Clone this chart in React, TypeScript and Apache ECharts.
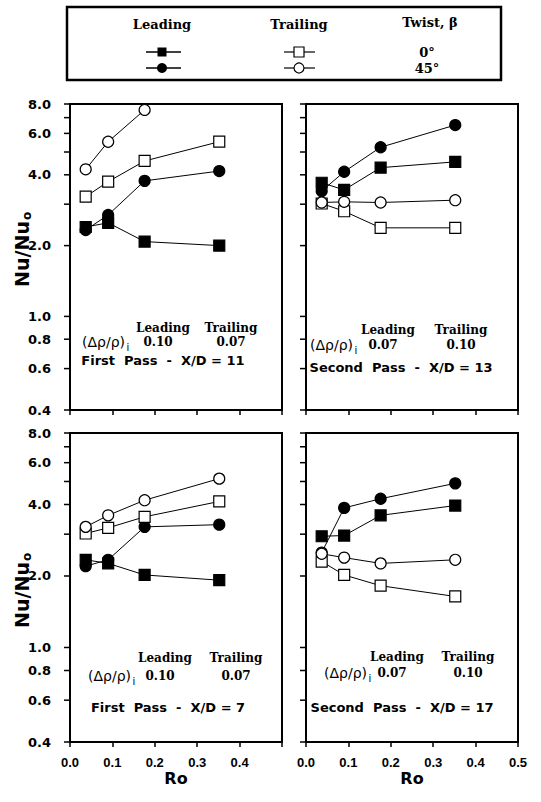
import React, { useEffect, useRef } from "react";
import * as echarts from "echarts";

// ---- data ----
const RO = [0.037, 0.09, 0.176, 0.352];

// First Pass - X/D = 11
const P1_LEAD_0 = [2.4, 2.5, 2.08, 2.0];
const P1_LEAD_45 = [2.33, 2.7, 3.77, 4.15];
const P1_TRAIL_0 = [3.23, 3.74, 4.58, 5.53];
const P1_TRAIL_45 = [4.22, 5.53, 7.55];

// Second Pass - X/D = 13
const P2_LEAD_0 = [3.7, 3.45, 4.29, 4.54];
const P2_LEAD_45 = [3.41, 4.12, 5.24, 6.51];
const P2_TRAIL_0 = [3.02, 2.8, 2.38, 2.38];
const P2_TRAIL_45 = [3.05, 3.07, 3.05, 3.12];

// First Pass - X/D = 7
const P3_LEAD_0 = [2.34, 2.26, 2.02, 1.92];
const P3_LEAD_45 = [2.2, 2.34, 3.22, 3.29];
const P3_TRAIL_0 = [3.02, 3.19, 3.55, 4.12];
const P3_TRAIL_45 = [3.22, 3.6, 4.17, 5.14];

// Second Pass - X/D = 17
const P4_LEAD_0 = [2.94, 2.96, 3.6, 3.96];
const P4_LEAD_45 = [2.51, 3.87, 4.23, 4.91];
const P4_TRAIL_0 = [2.3, 2.02, 1.82, 1.64];
const P4_TRAIL_45 = [2.48, 2.39, 2.26, 2.34];

const Y_TICKS = [0.4, 0.6, 0.8, 1, 2, 3, 4, 5, 6, 7, 8];
const Y_LABELED = [0.4, 0.6, 0.8, 1, 2, 4, 6, 8];

const PANEL_TITLES = [
  "First  Pass  -  X/D = 11",
  "Second  Pass  -  X/D = 13",
  "First  Pass  -  X/D = 7",
  "Second  Pass  -  X/D = 17",
];
const LEAD_RATIO = ["0.10", "0.07", "0.10", "0.07"];
const TRAIL_RATIO = ["0.07", "0.10", "0.07", "0.10"];

const PANELS = [
  { lead0: P1_LEAD_0, lead45: P1_LEAD_45, trail0: P1_TRAIL_0, trail45: P1_TRAIL_45 },
  { lead0: P2_LEAD_0, lead45: P2_LEAD_45, trail0: P2_TRAIL_0, trail45: P2_TRAIL_45 },
  { lead0: P3_LEAD_0, lead45: P3_LEAD_45, trail0: P3_TRAIL_0, trail45: P3_TRAIL_45 },
  { lead0: P4_LEAD_0, lead45: P4_LEAD_45, trail0: P4_TRAIL_0, trail45: P4_TRAIL_45 },
];

// ---- layout ----
const GRIDS = [
  { left: 70, top: 104, width: 212, height: 306 },
  { left: 306, top: 104, width: 212, height: 306 },
  { left: 70, top: 433, width: 212, height: 309 },
  { left: 306, top: 433, width: 212, height: 309 },
];

// annotation positions per panel
const ANN = [
  { leadX: 163, trailX: 231, head: 328, rhoX: 125, row: 342, titleX: 163, titleY: 360 },
  { leadX: 388, trailX: 461, head: 330, rhoX: 353, row: 345, titleX: 401, titleY: 367 },
  { leadX: 165, trailX: 236, head: 658, rhoX: 131, row: 676, titleX: 168, titleY: 707 },
  { leadX: 397, trailX: 468, head: 657, rhoX: 367, row: 673, titleX: 402, titleY: 707 },
];

const SERIF_B = '"DejaVu Serif"';
const SANS = '"DejaVu Sans"';

function App() {
  const ref = useRef<HTMLDivElement>(null);

  useEffect(() => {
    if (!ref.current) return;
    const chart = echarts.init(ref.current, null, { renderer: "svg" });

    const grid = GRIDS.map((g) => ({
      ...g,
      show: true,
      borderColor: "#000",
      borderWidth: 2,
      backgroundColor: "transparent",
    }));

    const xAxis = GRIDS.map((_, i) => {
      const bottom = i >= 2;
      return {
        type: "value",
        gridIndex: i,
        min: 0,
        max: 0.5,
        interval: 0.1,
        axisLine: { show: true, onZero: false, lineStyle: { color: "#000", width: 2 } },
        axisTick: { show: true, inside: false, length: 5, lineStyle: { color: "#000", width: 1.5 } },
        axisLabel: {
          show: bottom,
          margin: 14,
          color: "#000",
          fontFamily: '"Liberation Sans"',
          fontWeight: "bold",
          fontSize: 13,
          formatter: (v: number) => (i === 2 && v > 0.45 ? "" : v.toFixed(1)),
        },
        splitLine: { show: false },
        name: bottom ? "Ro" : "",
        nameLocation: "middle",
        nameGap: 28,
        nameTextStyle: { color: "#000", fontFamily: SANS, fontWeight: "bold", fontSize: 16 },
      };
    });

    const yAxis = GRIDS.map((_, i) => ({
      type: "log",
      logBase: 10,
      gridIndex: i,
      min: 0.4,
      max: 8,
      axisLine: { show: true, lineStyle: { color: "#000", width: 2 } },
      axisTick: { show: false },
      axisLabel: { show: false },
      splitLine: { show: false },
    }));

    const series: any[] = [];
    PANELS.forEach((p, i) => {
      const mk = (vals: number[], symbol: string, filled: boolean, size: number) => ({
        type: "line",
        xAxisIndex: i,
        yAxisIndex: i,
        data: vals.map((v, j) => [RO[j], v]),
        symbol,
        symbolSize: size,
        showAllSymbol: true,
        lineStyle: { color: "#000", width: 1 },
        itemStyle: { color: filled ? "#000" : "#fff", borderColor: "#000", borderWidth: 1.2, opacity: 1 },
        z: filled ? 3 : 4,
        clip: false,
      });
      series.push(mk(p.lead0, "rect", true, 11));
      series.push(mk(p.lead45, "circle", true, 11));
      series.push(mk(p.trail0, "rect", false, 11));
      series.push(mk(p.trail45, "circle", false, 11));

      const showLabels = i === 0 || i === 2;
      series.push({
        type: "custom",
        xAxisIndex: i,
        yAxisIndex: i,
        data: Y_TICKS.map((v) => [0, v]),
        clip: false,
        silent: true,
        z: 5,
        renderItem: (params: any, api: any) => {
          const v = api.value(1);
          const pt = api.coord([0, v]);
          const children: any[] = [
            {
              type: "line",
              shape: { x1: pt[0] - 6, y1: pt[1], x2: pt[0], y2: pt[1] },
              style: { stroke: "#000", lineWidth: 1.5 },
            },
          ];
          if (showLabels && Y_LABELED.indexOf(v) >= 0) {
            children.push({
              type: "text",
              x: pt[0] - 19,
              y: pt[1],
              style: {
                text: v.toFixed(1),
                align: "right",
                verticalAlign: "middle",
                fontFamily: SANS,
                fontWeight: "bold",
                fontSize: 13,
                fill: "#000",
              },
            });
          }
          return { type: "group", children };
        },
      });
    });

    const txt = (x: number, y: number, text: string, font: string, align = "center") => ({
      type: "text",
      x,
      y,
      style: { text, font, align, verticalAlign: "middle", fill: "#000" },
      silent: true,
    });

    const graphic: any[] = [];
    // legend box
    graphic.push({
      type: "rect",
      shape: { x: 67, y: 7, width: 434, height: 73 },
      style: { fill: "none", stroke: "#000", lineWidth: 2.5 },
    });
    graphic.push(txt(162, 24, "Leading", `bold 13px ${SERIF_B}`));
    graphic.push(txt(299, 24, "Trailing", `bold 13px ${SERIF_B}`));
    graphic.push(txt(430, 22, "Twist, β", `bold 13px ${SERIF_B}`));
    graphic.push({ type: "line", shape: { x1: 146, y1: 52, x2: 181, y2: 52 }, style: { stroke: "#000", lineWidth: 1.5 } });
    graphic.push({ type: "rect", shape: { x: 157.5, y: 47.5, width: 9, height: 9 }, style: { fill: "#000" } });
    graphic.push({ type: "line", shape: { x1: 284, y1: 52, x2: 315, y2: 52 }, style: { stroke: "#000", lineWidth: 1.2 } });
    graphic.push({ type: "rect", shape: { x: 294, y: 47, width: 10, height: 10 }, style: { fill: "#fff", stroke: "#000", lineWidth: 1.2 } });
    graphic.push(txt(427, 52, "0°", `bold 13px ${SERIF_B}`));
    graphic.push({ type: "line", shape: { x1: 146, y1: 68, x2: 181, y2: 68 }, style: { stroke: "#000", lineWidth: 1.5 } });
    graphic.push({ type: "circle", shape: { cx: 162, cy: 68, r: 5 }, style: { fill: "#000" } });
    graphic.push({ type: "line", shape: { x1: 284, y1: 68, x2: 315, y2: 68 }, style: { stroke: "#000", lineWidth: 1.2 } });
    graphic.push({ type: "circle", shape: { cx: 299, cy: 68, r: 5 }, style: { fill: "#fff", stroke: "#000", lineWidth: 1.2 } });
    graphic.push(txt(427, 68, "45°", `bold 13px ${SERIF_B}`));

    // panel annotations
    ANN.forEach((a, i) => {
      graphic.push(txt(a.leadX, a.head, "Leading", `bold 12px ${SERIF_B}`));
      graphic.push(txt(a.trailX, a.head, "Trailing", `bold 12px ${SERIF_B}`));
      graphic.push(txt(a.rhoX, a.row, "(Δρ/ρ)", `14px ${SANS}`, "right"));
      graphic.push(txt(a.rhoX + 1.5, a.row + 5, "i", `10px ${SANS}`, "left"));
      graphic.push(txt(a.leadX - 5, a.row, LEAD_RATIO[i], `bold 12px ${SERIF_B}`));
      graphic.push(txt(a.trailX, a.row, TRAIL_RATIO[i], `bold 12px ${SERIF_B}`));
      graphic.push(txt(a.titleX, a.titleY, PANEL_TITLES[i], `bold 13px ${SANS}`));
    });

    // y-axis titles
    [249, 590].forEach((cy) => {
      graphic.push({
        type: "group",
        x: 22,
        y: cy,
        rotation: Math.PI / 2,
        silent: true,
        children: [
          { type: "text", x: -5, y: 0, style: { text: "Nu/Nu", font: `bold 19px ${SANS}`, align: "center", verticalAlign: "middle", fill: "#000" } },
          { type: "text", x: 29, y: 5, style: { text: "o", font: `bold 12px ${SANS}`, align: "left", verticalAlign: "middle", fill: "#000" } },
        ],
      });
    });

    chart.setOption({
      animation: false,
      backgroundColor: "#fff",
      grid,
      xAxis,
      yAxis,
      series,
      graphic,
    });

    return () => chart.dispose();
  }, []);

  return (
    <div
      ref={ref}
      style={{ position: "fixed", left: 0, top: 0, width: 541, height: 802, background: "#fff" }}
    />
  );
}

export default App;
